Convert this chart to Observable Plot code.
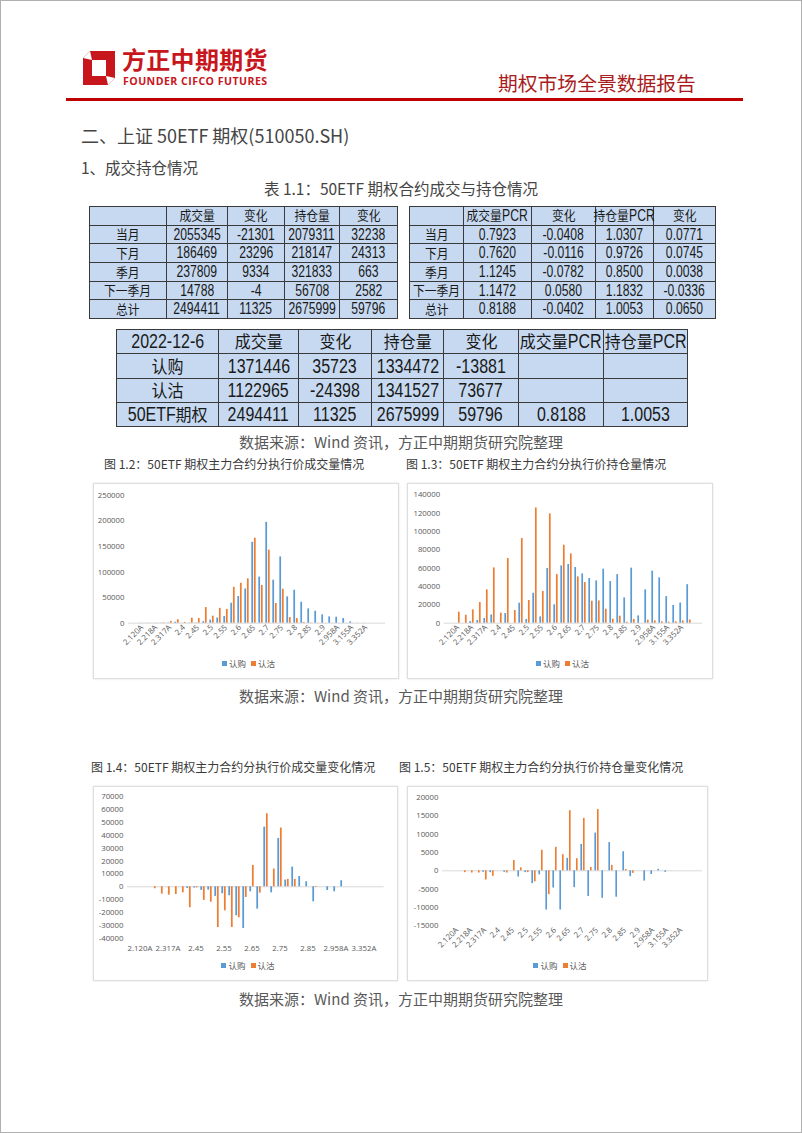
<!DOCTYPE html>
<html>
<head>
<meta charset="utf-8">
<script src="https://cdn.jsdelivr.net/npm/d3@7"></script>
<script src="https://cdn.jsdelivr.net/npm/@observablehq/plot@0.6"></script>
<style>
  html, body { margin: 0; padding: 0; background: #fff; }
  #page { position: relative; width: 802px; height: 1133px; box-sizing: border-box; border: 1px solid #b0b0b0; overflow: hidden;
          font-family: "Noto Sans CJK SC", "Noto Sans", sans-serif; color: #404040; }
  .abs { position: absolute; white-space: nowrap; line-height: 1; }
  table.t { position: absolute; border-collapse: collapse; table-layout: fixed; }
  table.t td { border: 1px solid #3a3a3a; background: #c6d9f0; padding: 0; overflow: visible; color: #1a1a1a; line-height: 1; }
  table.t td div { display: flex; justify-content: center; align-items: center; height: 100%; line-height: 1; }
  .rl, .rc { flex: none; display: inline-block; line-height: 1; white-space: pre; transform-origin: 50% 50%; }
  .rl { font-family: "Liberation Sans", "Open Sans", sans-serif; }
  .rc { font-family: "Noto Sans CJK SC", sans-serif; }
  .box { position: absolute; border: 1px solid #dedede; box-shadow: 0 0 2px rgba(0,0,0,0.12); background: #fff; }
  .box svg { position: absolute; left: 0; top: 0; }
  .legend { position: absolute; left: 0; right: 0; text-align: center; font-size: 8.5px; color: #595959; line-height: 1; font-family: "Noto Sans CJK SC", sans-serif; }
  .legend i { display: inline-block; width: 5px; height: 5px; margin: 0 2px 0 5px; vertical-align: 1px; }
  .ctitle { font-size: 12px; color: #3a3a3a; }
  .cap { left: 0; width: 800px; text-align: center; font-size: 15px; color: #595959; }
</style>
</head>
<body>
<div id="page">
  <svg class="abs" style="left:82px;top:50px" width="32" height="34" viewBox="0 0 32 34">
    <path d="M7 0 H32 V27 L25 34 H0 V7 Z" fill="#c8161d"/>
    <path d="M9 9 H23 V25 H9 Z" fill="#fff"/>
    <path d="M0 7 L7 0 L9 9 Z" fill="#fff"/>
    <path d="M23 25 L32 27 L25 34 Z" fill="#fff"/>
  </svg>
  <div class="abs" style="left:121px;top:46px;font-size:24px;font-weight:700;color:#c8161d;letter-spacing:0.3px">方正中期期货</div>
  <div class="abs" style="left:122px;top:75px;font-size:10.6px;font-weight:700;color:#c8161d;font-family:'Open Sans',sans-serif;letter-spacing:0.45px">FOUNDER CIFCO FUTURES</div>
  <div class="abs" style="left:497px;top:72px;font-size:19.8px;color:#a81c22">期权市场全景数据报告</div>
  <div class="abs" style="left:65px;top:97px;width:677px;height:3px;background:#c00000"></div>

  <div class="abs" style="left:80px;top:125px;font-size:18px;color:#454545">二、上证 50ETF 期权(510050.SH)</div>
  <div class="abs" style="left:80px;top:159px;font-size:15.5px;color:#454545">1、成交持仓情况</div>
  <div class="abs cap" style="top:180px;font-size:15.5px;color:#454545">表 1.1：50ETF 期权合约成交与持仓情况</div>

  <div class="abs cap" style="top:433px">数据来源：Wind 资讯，方正中期期货研究院整理</div>
  <div class="abs cap" style="top:687px">数据来源：Wind 资讯，方正中期期货研究院整理</div>
  <div class="abs cap" style="top:990px">数据来源：Wind 资讯，方正中期期货研究院整理</div>

  <div class="abs ctitle" style="left:103px;top:457px">图 1.2：50ETF 期权主力合约分执行价成交量情况</div>
  <div class="abs ctitle" style="left:405px;top:457px">图 1.3：50ETF 期权主力合约分执行价持仓量情况</div>
  <div class="abs ctitle" style="left:90px;top:760px">图 1.4：50ETF 期权主力合约分执行价成交量变化情况</div>
  <div class="abs ctitle" style="left:398px;top:760px">图 1.5：50ETF 期权主力合约分执行价持仓量变化情况</div>
</div>
<script>
// ---------- table data ----------
const t1Head = ["", "成交量", "变化", "持仓量", "变化"];
const t2Head = ["", "成交量PCR", "变化", "持仓量PCR", "变化"];
const termNames = ["当月", "下月", "季月", "下一季月", "总计"];
const termVol = [2055345, 186469, 237809, 14788, 2494411];
const termVolChg = [-21301, 23296, 9334, -4, 11325];
const termOi = [2079311, 218147, 321833, 56708, 2675999];
const termOiChg = [32238, 24313, 663, 2582, 59796];
const termVolPcr = ["0.7923", "0.7620", "1.1245", "1.1472", "0.8188"];
const termVolPcrChg = ["-0.0408", "-0.0116", "-0.0782", "0.0580", "-0.0402"];
const termOiPcr = ["1.0307", "0.9726", "0.8500", "1.1832", "1.0053"];
const termOiPcrChg = ["0.0771", "0.0745", "0.0038", "-0.0336", "0.0650"];

const t3Head = ["2022-12-6", "成交量", "变化", "持仓量", "变化", "成交量PCR", "持仓量PCR"];
const sideNames = ["认购", "认沽", "50ETF期权"];
const sideVol = [1371446, 1122965, 2494411];
const sideVolChg = [35723, -24398, 11325];
const sideOi = [1334472, 1341527, 2675999];
const sideOiChg = [-13881, 73677, 59796];
const sideVolPcr = ["", "", "0.8188"];
const sideOiPcr = ["", "", "1.0053"];

// ---------- chart data ----------
const strikes = ["2.120A","2.169A","2.218A","2.268A","2.317A","2.366A","2.4","2.416A","2.45","2.465A",
  "2.5","2.514A","2.55","2.564A","2.6","2.613A","2.65","2.662A","2.7","2.712A",
  "2.75","2.761A","2.8","2.810A","2.85","2.859A","2.9","2.909A","2.958A","3.057A",
  "3.155A","3.254A","3.352A","3.451A"];
const seriesNames = ["认购", "认沽"];
const volCall = [300,300,300,500,500,2000,200,500,500,3000,6000,10000,13000,39000,52000,67000,158000,90000,197000,84000,129500,51400,64400,41000,28000,23400,16300,12400,11700,9100,2600,300,200,100];
const volPut  = [200,300,500,800,3500,6800,1500,9800,9000,30600,13700,29000,26700,70000,78000,86600,166000,73600,142600,38400,66400,11000,9100,1500,500,300,200,200,200,100,100,0,0,0];
const oiCall = [0,0,1800,2900,5100,9000,0,10500,0,21800,4000,32700,6900,59600,20000,62500,64000,60700,53800,48700,46100,58900,45400,53000,27600,60000,8000,36300,56700,49400,29000,19300,22000,42000];
const oiPut  = [12000,8700,14500,22500,36300,60300,11000,70500,13800,92300,24700,125700,34500,119200,53000,85000,75600,50500,44300,24000,24300,15300,4400,7600,1000,4000,0,3300,2500,1500,1000,1500,2500,3500];
const volChgCall = [0,0,0,0,0,0,0,-1300,-1000,-2800,-2600,-7500,-5400,-7000,-22600,-32400,-3900,-17400,46400,-4700,37600,5200,15300,8000,3900,-11700,0,-2900,-3900,4700,0,0,0,0];
const volChgPut  = [0,0,-1500,-5700,-6500,-6000,-4700,-16300,-800,-10600,-12000,-31700,-18700,-31700,-24100,-8300,16600,-4900,56800,13800,45700,5700,5700,0,0,-500,0,0,0,0,0,0,0,0];
const oiChgCall = [0,0,0,0,-400,-500,0,-400,0,-1700,-500,-3500,-1100,-10700,-4700,-10700,3400,-4600,7200,-7000,10300,-7500,7700,-7200,5200,-1600,0,-2800,-1000,400,-400,0,0,0];
const oiChgPut  = [0,-500,-600,-600,-2500,-1500,0,-600,2800,800,-500,-3000,5600,-6500,6400,4400,16400,3300,14300,900,16700,0,1500,0,350,-700,0,0,0,0,0,0,0,0];

const page = document.getElementById("page");

// ---------- tables ----------
const CJK = /[\u3000-\u9fff\uff00-\uffef]/;
function makeTable(left, top, widths, rowH, cfg, rows) {
  const t = document.createElement("table");
  t.className = "t";
  t.style.left = left + "px"; t.style.top = top + "px";
  t.style.width = d3.sum(widths) + "px";
  const cg = document.createElement("colgroup");
  widths.forEach(w => { const c = document.createElement("col"); c.style.width = w + "px"; cg.appendChild(c); });
  t.appendChild(cg);
  rows.forEach(r => {
    const tr = document.createElement("tr");
    tr.style.height = rowH + "px";
    r.forEach(v => {
      const td = document.createElement("td");
      const dv = document.createElement("div");
      dv.style.height = (rowH - 1) + "px";
      const runs = String(v).match(/[\u3000-\u9fff\uff00-\uffef]+|[^\u3000-\u9fff\uff00-\uffef]+/g) || [];
      runs.forEach(run => {
        const isC = CJK.test(run);
        const s = document.createElement("span");
        s.className = isC ? "rc" : "rl";
        s.textContent = run;
        s.style.fontSize = (isC ? cfg.cjk : cfg.lat) + "px";
        s.dataset.sx = isC ? cfg.cjkS : cfg.latS;
        dv.appendChild(s);
      });
      td.appendChild(dv); tr.appendChild(td);
    });
    t.appendChild(tr);
  });
  page.appendChild(t);
}
const small = {lat: 16, latS: 0.76, cjk: 12.8, cjkS: 0.92};
const big = {lat: 20.5, latS: 0.78, cjk: 16.5, cjkS: 0.97};
makeTable(88, 205, [77, 61, 57, 55, 58], 18.7, small,
  [t1Head].concat(termNames.map((n, i) => [n, termVol[i], termVolChg[i], termOi[i], termOiChg[i]])));
makeTable(408, 205, [54, 68, 64, 58, 62], 18.7, small,
  [t2Head].concat(termNames.map((n, i) => [n, termVolPcr[i], termVolPcrChg[i], termOiPcr[i], termOiPcrChg[i]])));
makeTable(115, 328, [102, 80, 73, 72, 75, 85, 84], 24.25, big,
  [t3Head].concat(sideNames.map((n, i) => [n, sideVol[i], sideVolChg[i], sideOi[i], sideOiChg[i], sideVolPcr[i], sideOiPcr[i]])));
// horizontal condensing of the cell texts (layout width compensated)
const runEls = Array.from(document.querySelectorAll(".rl, .rc"));
const runW = runEls.map(s => s.getBoundingClientRect().width);
runEls.forEach((s, i) => {
  const k = +s.dataset.sx;
  const m = -runW[i] * (1 - k) / 2;
  s.style.transform = `scaleX(${k})`;
  s.style.marginLeft = m + "px";
  s.style.marginRight = m + "px";
});

// ---------- charts ----------
const BLUE = "#5b9bd5", ORANGE = "#ed7d31";
function chart(o) {
  const rows = strikes.map((k, i) => ({k, call: o.calls[i], put: o.puts[i]}));
  const bw = (o.w - o.m[1] - o.m[3]) / strikes.length;
  const bar = 2.3, gap = 0.15;
  const outer = bw / 2 - gap - bar, inner = bw / 2 + gap;
  const box = document.createElement("div");
  box.className = "box";
  box.style.left = o.left + "px"; box.style.top = o.top + "px";
  box.style.width = o.w + "px"; box.style.height = o.h + "px";
  const svg = Plot.plot({
    width: o.w, height: o.h,
    marginTop: o.m[0], marginRight: o.m[1], marginBottom: o.m[2], marginLeft: o.m[3],
    style: {fontFamily: "'Open Sans', sans-serif", fontSize: "7.8px", color: "#595959", background: "transparent", overflow: "visible"},
    x: {type: "band", domain: strikes, padding: 0},
    y: {domain: o.yDomain, nice: false},
    marks: [
      Plot.ruleY([0], {stroke: "#d9d9d9", strokeWidth: 1}),
      Plot.barY(rows, {x: "k", y: "call", fill: BLUE, insetLeft: outer, insetRight: inner}),
      Plot.barY(rows, {x: "k", y: "put", fill: ORANGE, insetLeft: inner, insetRight: outer}),
      Plot.axisY({ticks: o.yTicks, tickSize: 0, tickPadding: 4, tickFormat: d => String(d), label: null}),
      Plot.axisX({ticks: strikes.filter((d, i) => i % o.every === 0), tickSize: 0,
        tickRotate: o.rotate, tickPadding: o.pad, label: null})
    ]
  });
  box.appendChild(svg);
  const lg = document.createElement("div");
  lg.className = "legend";
  lg.style.top = o.legendTop + "px";
  lg.innerHTML = `<i style="background:${BLUE}"></i>${seriesNames[0]}<i style="background:${ORANGE}"></i>${seriesNames[1]}`;
  box.appendChild(lg);
  page.appendChild(box);
}
chart({left: 92, top: 482, w: 304, h: 194, m: [10.7, 13, 55.3, 34], calls: volCall, puts: volPut,
  yDomain: [0, 250000], yTicks: d3.range(0, 250001, 50000), every: 2, rotate: -45, pad: 3, legendTop: 175});
chart({left: 406, top: 482, w: 304, h: 194, m: [10.3, 10, 55.3, 35.7], calls: oiCall, puts: oiPut,
  yDomain: [0, 140000], yTicks: d3.range(0, 140001, 20000), every: 2, rotate: -45, pad: 3, legendTop: 175});
chart({left: 92, top: 785, w: 303, h: 193, m: [9.3, 13.3, 42.3, 33], calls: volChgCall, puts: volChgPut,
  yDomain: [-40000, 70000], yTicks: d3.range(-40000, 70001, 10000), every: 4, rotate: 0, pad: 7, legendTop: 174});
chart({left: 406, top: 785, w: 299, h: 193, m: [10, 5, 54.7, 34], calls: oiChgCall, puts: oiChgPut,
  yDomain: [-15000, 20000], yTicks: d3.range(-15000, 20001, 5000), every: 2, rotate: -45, pad: 3, legendTop: 174});
</script>
</body>
</html>
